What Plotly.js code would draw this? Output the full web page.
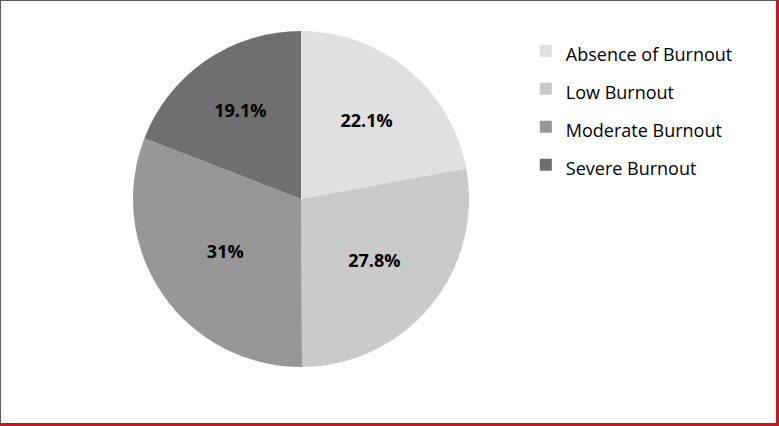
<!DOCTYPE html>
<html>
<head>
<meta charset="utf-8">
<script src="https://cdn.plot.ly/plotly-3.0.1.min.js"></script>
<style>
  html, body { margin: 0; padding: 0; background: #fff; }
  #wrap { position: relative; width: 779px; height: 426px; }
  #chart { width: 779px; height: 426px; }
  #frame { position: absolute; left: 0; top: 0; width: 779px; height: 426px; box-sizing: border-box;
           border-left: 1px solid #5a5a5a; border-top: 1px solid #5a5a5a;
           border-right: 3px solid #c8161d; border-bottom: 3px solid #c8161d; pointer-events: none; }
</style>
</head>
<body>
<div id="wrap"><div id="chart"></div><div id="frame"></div></div>
<script>
const categories = ["Absence of Burnout", "Low Burnout", "Moderate Burnout", "Severe Burnout"];
const percentages = [22.1, 27.8, 31, 19.1];
const sliceColors = ["#e0e0e0", "#cacaca", "#979797", "#6f6f6f"];

const legendLabels = categories.map(c => '<span style="font-size:18px">' + c + '</span>');

const trace = {
  type: "pie",
  labels: legendLabels,
  values: percentages,
  sort: false,
  direction: "clockwise",
  rotation: 0,
  marker: { colors: sliceColors, line: { width: 0 } },
  texttemplate: "<b>%{value}%</b>",
  textposition: "inside",
  insidetextorientation: "horizontal",
  textfont: { family: "Open Sans, sans-serif", size: 18, color: "#000" },
  hoverinfo: "skip",
  domain: { x: [133/779, 469/779], y: [59/426, 395/426] }
};

const layout = {
  width: 779, height: 426,
  margin: { l: 0, r: 0, t: 0, b: 0 },
  paper_bgcolor: "#fff",
  showlegend: true,
  legend: {
    x: 0.675, y: 0.937, xanchor: "left", yanchor: "top",
    font: { family: "Open Sans, sans-serif", size: 26.9, color: "#000" },
    bgcolor: "rgba(0,0,0,0)"
  }
};

Plotly.newPlot("chart", [trace], layout, { displayModeBar: false, staticPlot: true });
</script>
</body>
</html>
